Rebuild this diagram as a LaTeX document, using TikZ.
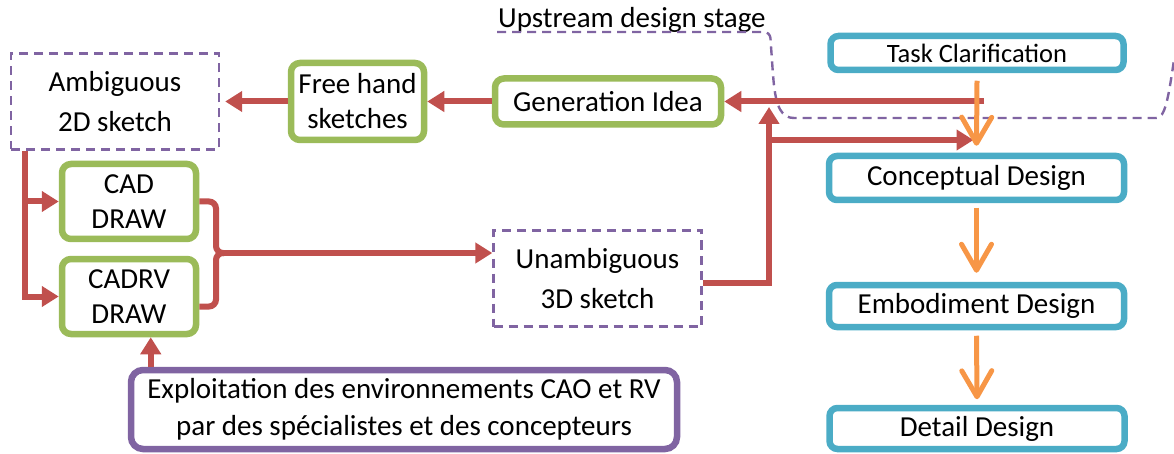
\documentclass[tikz,border=0pt]{standalone}
\usepackage{fontspec}
\setmainfont{Carlito}
\usetikzlibrary{arrows.meta,calc}
\definecolor{arrowred}{HTML}{C0504D}
\definecolor{ideagreen}{HTML}{9BBB59}
\definecolor{phaseblue}{HTML}{4BACC6}
\definecolor{sketchpurple}{HTML}{8064A2}
\definecolor{floworange}{HTML}{F79646}

\begin{document}
\begin{tikzpicture}[x=1pt,y=-1pt,
  font=\fontsize{29}{35}\selectfont,
  greenbox/.style={draw=ideagreen,line width=6.5pt,rounded corners=9pt,fill=white,align=center,inner sep=0pt},
  phasebox/.style={draw=phaseblue,line width=6.5pt,rounded corners=8pt,fill=white,inner sep=0pt,minimum width=295pt},
  dashframe/.style={draw=sketchpurple,line width=2.4pt,dash pattern=on 9pt off 6pt},
  sketchbox/.style={dashframe,align=center,inner sep=0pt,font=\fontsize{29}{40}\selectfont},
  redline/.style={draw=arrowred,line width=6pt},
  redarrow/.style={redline,-{Triangle[length=17pt,width=20pt]}},
  orangearrow/.style={draw=floworange,line width=5pt,-{Straight Barb[length=26pt,width=30pt,round]}}]
  \useasboundingbox (0,0) rectangle (1174,454);

  % stage frame
  \node[anchor=base west,inner sep=0pt] (stage) at (498,28) {Upstream design stage};
  \draw[dashframe,rounded corners=6pt]
    (497,32) -- (770,32) -- (773,75) .. controls (776,108) and (782,118) .. (800,118)
    -- (1150,118) .. controls (1165,118) and (1168,100) .. (1174,60);

  % sketches and tools
  \node[sketchbox,minimum width=208pt,minimum height=96pt] (amb) at (115,101.5) {Ambiguous\\2D sketch};
  \node[greenbox,minimum width=133pt,minimum height=77pt] (free) at (357.5,101.5) {Free hand\\sketches};
  \node[greenbox,minimum width=226pt,minimum height=46pt] (gen) at (608,101.5) {Generation Idea};
  \node[greenbox,minimum width=134pt,minimum height=75pt] (cad) at (129,201.5) {CAD\\DRAW};
  \node[greenbox,minimum width=134pt,minimum height=75pt] (cadrv) at (129,296.5) {CADRV\\DRAW};
  \node[sketchbox,minimum width=208pt,minimum height=96pt] (unamb) at (597.5,278.5) {Unambiguous\\3D sketch};
  \node[draw=sketchpurple,line width=6.5pt,rounded corners=12pt,align=center,inner sep=0pt,
        minimum width=546pt,minimum height=79pt,font=\fontsize{29}{37}\selectfont] (expl) at (404,409.5)
        {Exploitation des environnements CAO et RV\\par des spécialistes et des concepteurs};

  % design phases
  \node[phasebox,minimum width=293pt,minimum height=34pt,font=\fontsize{26.5}{30}\selectfont] (task) at (977,53) {Task Clarification};
  \node[phasebox,minimum height=44pt] (concept) at (976.5,178) {Conceptual Design};
  \node[phasebox,minimum height=42pt] (embod) at (976.5,306) {Embodiment Design};
  \node[phasebox,minimum height=41pt] (detail) at (977,428.5) {Detail Design};

  % red flow
  \coordinate (split) at ([xshift=15pt]amb.south west);
  \coordinate (brace) at (224,253);
  \coordinate (riser) at (769,107);
  \coordinate (fork) at (769,140);
  \coordinate (taskdrop) at (984,101.5);
  \coordinate (feed) at ([xshift=23pt]expl.north west);
  \draw[redarrow] (gen.west) -- (free.east);
  \draw[redarrow,shorten >=5pt] (free.west) -- (amb.east);
  \draw[redarrow] (split) |- (cadrv.west);
  \draw[redarrow] (split |- cad.west) -- (cad.west);
  \draw[redline,rounded corners=7pt] (cad.east) -| ([xshift=-8pt]brace) -- (brace);
  \draw[redline,rounded corners=7pt] ([yshift=-10pt]cadrv.east) -| ([xshift=-8pt]brace) -- (brace);
  \draw[redarrow] (brace) -- (brace -| unamb.west);
  \draw[redarrow] ([yshift=-4pt]unamb.east) -| (riser);
  \draw[redarrow,shorten >=3pt] (fork) -- (fork -| concept.north);
  \draw[redarrow] (taskdrop) -- (gen.east);
  \draw[redarrow] (feed) -- (feed |- cadrv.south);

  % orange flow
  \draw[orangearrow] ([yshift=-7.5pt]task.south) -- ([yshift=7pt]concept.north);
  \draw[orangearrow] ([yshift=-4.5pt]concept.south) -- ([yshift=9pt]embod.north);
  \draw[orangearrow] ([yshift=-5.5pt]embod.south) -- ([yshift=5.5pt]detail.north);
\end{tikzpicture}
\end{document}
